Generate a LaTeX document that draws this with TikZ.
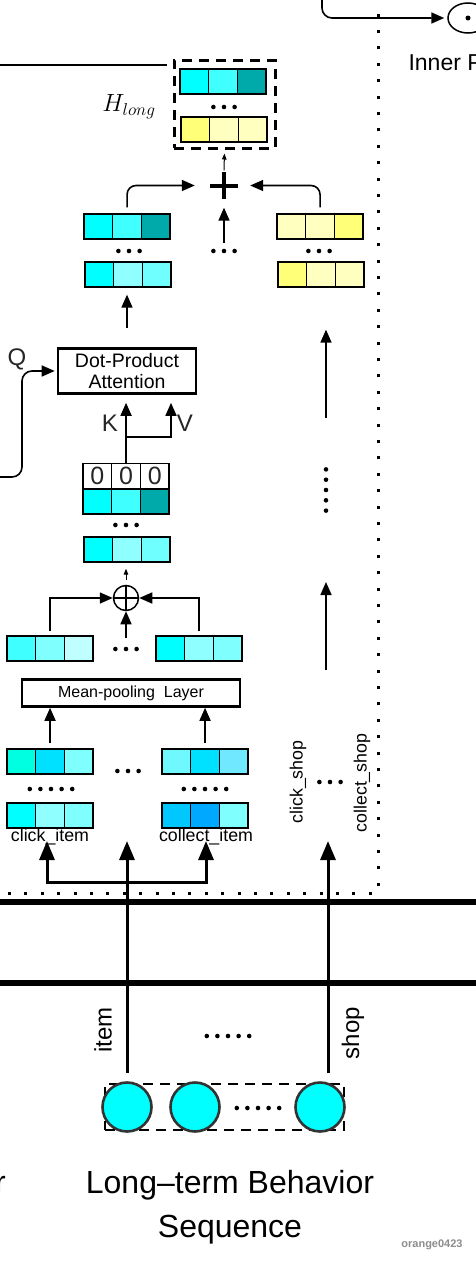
\documentclass[tikz,border=0pt]{standalone}
\usepackage{fontspec}
\setmainfont{Liberation Sans}
\usetikzlibrary{arrows.meta,shapes.geometric}

\definecolor{c00}{HTML}{00FFFF}
\definecolor{c40}{HTML}{40FFFF}
\definecolor{cAA}{HTML}{00AAAA}
\definecolor{c90}{HTML}{90FFFF}
\definecolor{c70}{HTML}{70FFFF}
\definecolor{c80}{HTML}{80FFFF}
\definecolor{cC0}{HTML}{C0FFFF}
\definecolor{cTq}{HTML}{00FFE0}
\definecolor{cSk}{HTML}{00E0FF}
\definecolor{cSkB}{HTML}{00C8FF}
\definecolor{cSkC}{HTML}{00A8FF}
\definecolor{cLt}{HTML}{70F8FF}
\definecolor{cLtB}{HTML}{70E8FF}
\definecolor{yA}{HTML}{FFFF78}
\definecolor{yB}{HTML}{FFFFC0}
\definecolor{dgray}{HTML}{333333}

\newcommand{\seqfont}{\fontsize{32}{38}\selectfont}
\newcommand{\attnfont}{\fontsize{19.5}{21}\selectfont}
\newcommand{\meanfont}{\fontsize{16}{19}\selectfont}
\newcommand{\lblfont}{\fontsize{17.8}{20}\selectfont}
\newcommand{\vlblfont}{\fontsize{24}{28}\selectfont}
\newcommand{\qkvfont}{\fontsize{24}{28}\selectfont}
\newcommand{\zerofont}{\fontsize{25}{28}\selectfont}
\newcommand{\innerfont}{\fontsize{23}{28}\selectfont}
\newcommand{\hfont}{\fontsize{23}{28}\selectfont}
\newcommand{\wmfont}{\fontsize{11}{13}\selectfont\bfseries}

\begin{document}
\begin{tikzpicture}[x=1pt, y=-1pt,
    cell/.style={draw, line width=1.3pt, minimum width=28.7pt, minimum height=25pt, inner sep=0pt},
    arr/.style={line width=1.6pt, -{Triangle[length=13pt, width=11pt]}},
    bigarr/.style={line width=3pt, -{Triangle[length=19pt, width=15pt]}},
    tinyarr/.style={line width=1pt, -{Triangle[length=6pt, width=4.5pt]}},
    blockbox/.style={draw, line width=2.6pt, inner sep=0pt},
    dashbox/.style={draw, line width=2.6pt, dash pattern=on 10pt off 7pt, inner sep=0pt},
    behnode/.style={circle, draw=dgray, line width=2.6pt, fill=c00, minimum size=49pt, inner sep=0pt}
]
    \useasboundingbox (0,0) rectangle (476,1266);

    % Frame rules
    \draw[line width=6pt] (-5,902) -- (481,902);
    \draw[line width=6pt] (-5,983) -- (481,983);
    \draw[line width=3pt, dash pattern=on 3pt off 13.4pt] (8,893) -- (378,893) -- (378,-5);

    % H_long
    \node[dashbox, line width=3pt, minimum width=101pt, minimum height=88pt] (hlong) at (224.5,104) {};
    \node[font=\hfont] (hlbl) at (129,107) {$H_{long}$};
    \coordinate (hlin) at (-5,65);
    \draw[line width=1.3pt, shorten >=6pt] (hlin) -- (hlin -| hlong.west);

    % Embedding rows
    \foreach \nm/\x/\y/\ca/\cb/\cc in {
        hla/180/69/c00/c40/cAA, hlb/181/117/yA/yB/yB,
        ata/84/214/c00/c40/cAA, atb/85/262/c00/c90/c70,
        sha/277/214/yB/yB/yA, shb/278/262/yA/yB/yB,
        kva/83/489/c00/c40/cAA, kvb/84/537/c00/c90/c70,
        mpa/7/636/c40/c80/cC0, mpb/156/636/c00/c90/c80,
        cla/7/749/cTq/cSk/c80, coa/162/749/cLt/cSk/cLtB,
        clb/7/803/c00/c90/c80, cob/162/803/cSkB/cSkC/c80}
    {
        \foreach \c [count=\i] in {\ca,\cb,\cc}
            \node[cell, fill=\c] (\nm-\i) at ({\x+28.7*(\i-0.5)}, {\y+12.5}) {};
    }
    \foreach \i in {1,2,3}
        \node[cell, fill=white, font=\zerofont, text=black!85] (zr-\i) at ({83+28.7*(\i-0.5)}, 476) {0};

    % Dots
    \coordinate (hldots) at (224,107);
    \coordinate (atdots) at (129,251);
    \coordinate (middots) at (224,251);
    \coordinate (shdots) at (319,251);
    \coordinate (kvdots) at (126,525);
    \coordinate (mdots) at (126,649);
    \coordinate (cldots) at (128,771);
    \coordinate (shdotsb) at (330,782);
    \coordinate (clfive) at (51,789);
    \coordinate (cofive) at (205,789);
    \coordinate (topdots) at (228,1036);
    \coordinate (cdots) at (258,1108);
    \coordinate (rdots) at (326,490);
    \foreach \p/\n in {hldots/3, atdots/3, middots/3, shdots/3, kvdots/3, mdots/3, cldots/3,
        shdotsb/3, clfive/5, cofive/5, topdots/5, cdots/5}
        \foreach \k in {1,...,\n}
            \fill ([xshift={(\k-(\n+1)/2)*10.6pt}]\p) circle (2.3pt);
    \foreach \k in {1,...,5}
        \fill ([yshift={(3-\k)*10.3pt}]rdots) circle (2.3pt);

    % Sum
    \node[minimum width=28pt, minimum height=26pt, inner sep=0pt] (plus) at (224,185.5) {};
    \draw[line width=4pt] (plus.north) -- (plus.south) (plus.west) -- (plus.east);
    \draw[tinyarr, shorten <=2pt, shorten >=4pt] (plus.north) -- (hlong.south);
    \draw[arr, rounded corners=9pt, shorten <=6pt, shorten >=15pt] (ata-2.north) |- (plus.west);
    \draw[arr, rounded corners=9pt, shorten <=6pt, shorten >=12pt] (sha-2.north) |- (plus.east);
    \draw[arr, shorten <=8pt, shorten >=9pt] (middots) -- (plus.south);

    % Attention
    \node[blockbox, minimum width=138pt, minimum height=45pt, align=center, font=\attnfont] (attn) at (127,371) {Dot-Product\\Attention};
    \draw[arr, shorten <=19pt, shorten >=7pt] (attn.north) -- (attn.north |- atb-2.south);
    \node[font=\qkvfont, text=black!85] (qlbl) at (17,359) {Q};
    \coordinate (qin) at (-5,477);
    \coordinate (qbend) at (22,371);
    \draw[arr, rounded corners=10pt, shorten >=2pt] (qin) -| (qbend) -- (attn.west);
    \coordinate (ktip) at ([yshift=-8pt]attn.south);
    \draw[arr] (zr-2.north) -- (zr-2.north |- ktip);
    \coordinate (kvsplit) at ([yshift=26pt]zr-2.north);
    \draw[arr] (kvsplit) -| ([xshift=44pt]ktip);
    \node[font=\qkvfont, text=black!85] (klbl) at (110,423) {K};
    \node[font=\qkvfont, text=black!85] (vlbl) at (185,423) {V};

    % Shop branch
    \draw[arr, shorten <=72pt, shorten >=42pt] (rdots) -- (rdots |- shb-2.south);
    \coordinate (shoplow) at (326,670);
    \draw[arr, shorten >=92pt] (shoplow) -- (rdots);

    % Oplus
    \node[circle, draw, line width=1.5pt, minimum size=25pt, inner sep=0pt] (oplus) at (126,598) {};
    \draw[line width=1.5pt] (oplus.north) -- (oplus.south) (oplus.west) -- (oplus.east);
    \draw[tinyarr, shorten <=5pt, shorten >=6pt] (oplus.north) -- (oplus.north |- kvb-2.south);
    \draw[arr, shorten <=4pt] (mpa-2.north) |- (oplus.west);
    \draw[arr, shorten <=4pt] (mpb-2.north) |- (oplus.east);
    \draw[arr, shorten <=11pt] (mdots) -- (oplus.south);

    % Mean pooling
    \node[blockbox, minimum width=218pt, minimum height=27pt, font=\meanfont] (mean) at (131,693) {Mean-pooling\ \ Layer};
    \draw[arr, shorten <=5pt] (cla-2.north) -- (cla-2.north |- mean.south);
    \draw[arr, shorten <=5pt] (coa-2.north) -- (coa-2.north |- mean.south);

    % Labels
    \node[anchor=base, font=\lblfont] (clklbl) at (50,841) {click\_item};
    \node[anchor=base, font=\lblfont] (collbl) at (206,841) {collect\_item};
    \node[rotate=90, font=\lblfont] (cshlbl) at (298,782) {click\_shop};
    \node[rotate=90, font=\lblfont] (coshlbl) at (362,783) {collect\_shop};

    % Behavior sequence
    \node[dashbox, minimum width=239pt, minimum height=46pt] (seqbox) at (224.5,1107) {};
    \node[behnode] (beh1) at (127,1107) {};
    \node[behnode] (beh2) at (195,1107) {};
    \node[behnode] (beh3) at (320,1107) {};
    \coordinate (itembot) at ([yshift=8pt]beh1.north);
    \coordinate (shopbot) at ([xshift=8pt, yshift=8pt]beh3.north);
    \coordinate (isplit) at (itembot |- 0,882);
    \draw[bigarr] (itembot) -- (itembot |- clklbl.base);
    \draw[line width=3pt, {Triangle[length=19pt, width=15pt]}-{Triangle[length=19pt, width=15pt]}]
        ([xshift=-3pt]clklbl.base) |- (isplit) -| (collbl.base);
    \draw[bigarr] (shopbot) -- (shopbot |- clklbl.base);
    \node[rotate=90, font=\vlblfont] (itemlbl) at (103,1030) {item};
    \node[rotate=90, font=\vlblfont] (shoplbl) at (353,1033) {shop};

    % Inner product
    \node[ellipse, draw, line width=1.5pt, minimum width=40pt, minimum height=30pt, inner sep=0pt] (inner) at (468,18) {};
    \fill (inner.center) circle (2.5pt);
    \coordinate (topin) at (322,-5);
    \draw[arr, rounded corners=10pt, shorten >=3pt] (topin) |- (inner.west);
    \node[anchor=base west, font=\innerfont] (innerlbl) at (405,70) {Inner Product};

    % Titles
    \node[anchor=base, font=\seqfont] (seqlbl) at (230,1193) {Long--term Behavior};
    \node[anchor=base, font=\seqfont] (seqlblb) at (230,1237) {Sequence};
    \node[anchor=base east, font=\seqfont, inner sep=0pt] (prevr) at (6,1193) {r};
    \node[font=\wmfont, text=black!45] (wm) at (432,1245) {orange0423};

\end{tikzpicture}
\end{document}
